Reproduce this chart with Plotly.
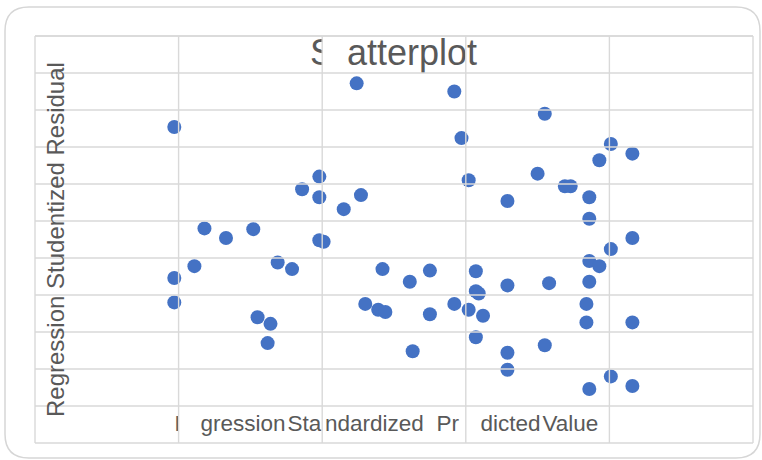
import plotly.graph_objects as go

# ---- data ----
pred_std = [-2.03, -0.76, -0.08, 0.55, -0.03, 1.01, 1.16, 0.93, -1.02, -1.14,
            -1.02, -0.73, -0.85, 0.02, 0.50, 0.69, 0.73, 0.29, 0.86, 0.86,
            -1.82, -1.67, -1.48, -1.02, -0.99, 1.16, 1.01, -1.89, -2.03, -2.03,
            -1.31, -1.21, -1.45, -1.36, -1.38, -0.58, -0.70, -0.61, -0.56, -0.39,
            -0.25, 0.07, 0.07, 0.09, 0.29, 0.58, 0.86, 0.93, 0.86, -0.25,
            -0.08, 0.02, 0.12, 0.84, 0.84, 1.16, 0.07, -0.37, 0.29, 0.29,
            0.55, 0.86, 1.01, 1.16]
resid_stud = [1.27, 1.86, 1.75, 1.45, 1.12, 1.04, 0.91, 0.82, 0.60, 0.43,
              0.32, 0.35, 0.16, 0.55, 0.64, 0.47, 0.47, 0.27, 0.32, 0.03,
              -0.10, -0.23, -0.11, -0.26, -0.28, -0.23, -0.38, -0.61, -0.77, -1.10,
              -0.56, -0.65, -1.30, -1.39, -1.65, -0.65, -1.12, -1.20, -1.23, -0.82,
              -0.67, -0.68, -0.95, -0.98, -0.87, -0.84, -0.54, -0.61, -0.82, -1.26,
              -1.12, -1.20, -1.28, -1.12, -1.37, -1.37, -1.57, -1.76, -1.78, -2.01,
              -1.68, -2.27, -2.10, -2.23]

title_text = "Scatterplot"
x_title = "Regression Standardized Predicted Value"
y_title = "Regression Studentized Residual"

x_grid = [-3, -2, -1, 0, 1, 2]
y_grid = [-3 + 0.5 * i for i in range(12)]
X_RANGE = [-3, 2]
Y_RANGE = [-3, 2.5]

# ---- layout geometry ----
W, H = 762, 460
L, R, T, B = 35, 9, 36, 17
PW, PH = W - L - R, H - T - B

def px2x(px):
    return X_RANGE[0] + (px - L) / PW * (X_RANGE[1] - X_RANGE[0])

def py2y(py):
    return Y_RANGE[0] + (H - B - py) / PH * (Y_RANGE[1] - Y_RANGE[0])

def xp(px):
    return (px - L) / PW

def yp(py):
    return (H - B - py) / PH

GREY_TXT = "#595959"
GRID = "#d9d9d9"
REG = "Liberation Sans, Arial, sans-serif"

fig = go.Figure()
fig.add_trace(go.Scatter(
    x=pred_std, y=resid_stud, mode="markers",
    marker=dict(size=14, color="#4472C4", line=dict(width=0)),
    hoverinfo="skip", showlegend=False))

# title fragments (as drawn in the reference, split by the cell grid)
title_parts = [("S", 310, 56), ("atterplot", 347, 56)]
fig.add_trace(go.Scatter(
    x=[px2x(p[1]) for p in title_parts], y=[py2y(p[2]) for p in title_parts],
    text=[p[0] for p in title_parts], mode="text", textposition="middle right",
    textfont=dict(family=REG, size=36, color=GREY_TXT),
    hoverinfo="skip", showlegend=False))

xt_parts = [("R", 174.5, 425), ("gression", 200.5, 425), ("Sta", 287.5, 425),
            ("ndardized", 325, 425), ("Pr", 436.5, 425), ("dicted", 480.5, 425),
            ("Value", 542.5, 425)]
fig.add_trace(go.Scatter(
    x=[px2x(p[1]) for p in xt_parts], y=[py2y(p[2]) for p in xt_parts],
    text=[p[0] for p in xt_parts], mode="text", textposition="middle right",
    textfont=dict(family=REG, size=22.5, color=GREY_TXT),
    hoverinfo="skip", showlegend=False))

shapes = []
# white masks (cells hide text spilling across the vertical grid lines)
masks = [(322.6, 347, 37, 72),
         (178.6, 200, 408, 442), (322.6, 324.8, 408, 442),
         (466.6, 480, 408, 442), (610.6, 752, 408, 442)]
for x0, x1, y0, y1 in masks:
    shapes.append(dict(type="rect", xref="paper", yref="paper", layer="above",
                       x0=xp(x0), x1=xp(x1), y0=yp(y1), y1=yp(y0),
                       fillcolor="white", line=dict(width=0)))
# grid lines drawn on top
for v in x_grid:
    f = (v - X_RANGE[0]) / (X_RANGE[1] - X_RANGE[0])
    shapes.append(dict(type="line", xref="paper", yref="paper", layer="above",
                       x0=f, x1=f, y0=0, y1=1, line=dict(color=GRID, width=1.4)))
for v in y_grid + [Y_RANGE[1]]:
    f = (v - Y_RANGE[0]) / (Y_RANGE[1] - Y_RANGE[0])
    shapes.append(dict(type="line", xref="paper", yref="paper", layer="above",
                       x0=0, x1=1, y0=f, y1=f, line=dict(color=GRID, width=1.4)))
# rounded outer frame
bx0, by0, bx1, by1, r = 5, 7, 760, 458, 24
def P(px, py):
    return f"{xp(px):.5f},{yp(py):.5f}"
path = (f"M {P(bx0 + r, by0)} L {P(bx1 - r, by0)} Q {P(bx1, by0)} {P(bx1, by0 + r)} "
        f"L {P(bx1, by1 - r)} Q {P(bx1, by1)} {P(bx1 - r, by1)} "
        f"L {P(bx0 + r, by1)} Q {P(bx0, by1)} {P(bx0, by1 - r)} "
        f"L {P(bx0, by0 + r)} Q {P(bx0, by0)} {P(bx0 + r, by0)} Z")
shapes.append(dict(type="path", xref="paper", yref="paper", layer="above",
                   path=path, line=dict(color="#d6d6d6", width=1.5)))

fig.update_layout(
    width=W, height=H, margin=dict(l=L, r=R, t=T, b=B, pad=0),
    paper_bgcolor="white", plot_bgcolor="white",
    shapes=shapes,
    annotations=[dict(text=y_title, textangle=-90, xref="paper", yref="paper",
                      x=xp(56), y=yp(240), xanchor="center", yanchor="middle",
                      showarrow=False,
                      font=dict(family=REG, size=24, color=GREY_TXT))],
    xaxis=dict(range=X_RANGE, showgrid=False, zeroline=False, showticklabels=False,
               ticks="", showline=False, fixedrange=True),
    yaxis=dict(range=Y_RANGE, showgrid=False, zeroline=False, showticklabels=False,
               ticks="", showline=False, fixedrange=True),
)
fig.write_html("out.html",
               config={"displayModeBar": False},
               post_script="document.body.style.margin='0px';"
                           "document.body.style.overflow='hidden';")
